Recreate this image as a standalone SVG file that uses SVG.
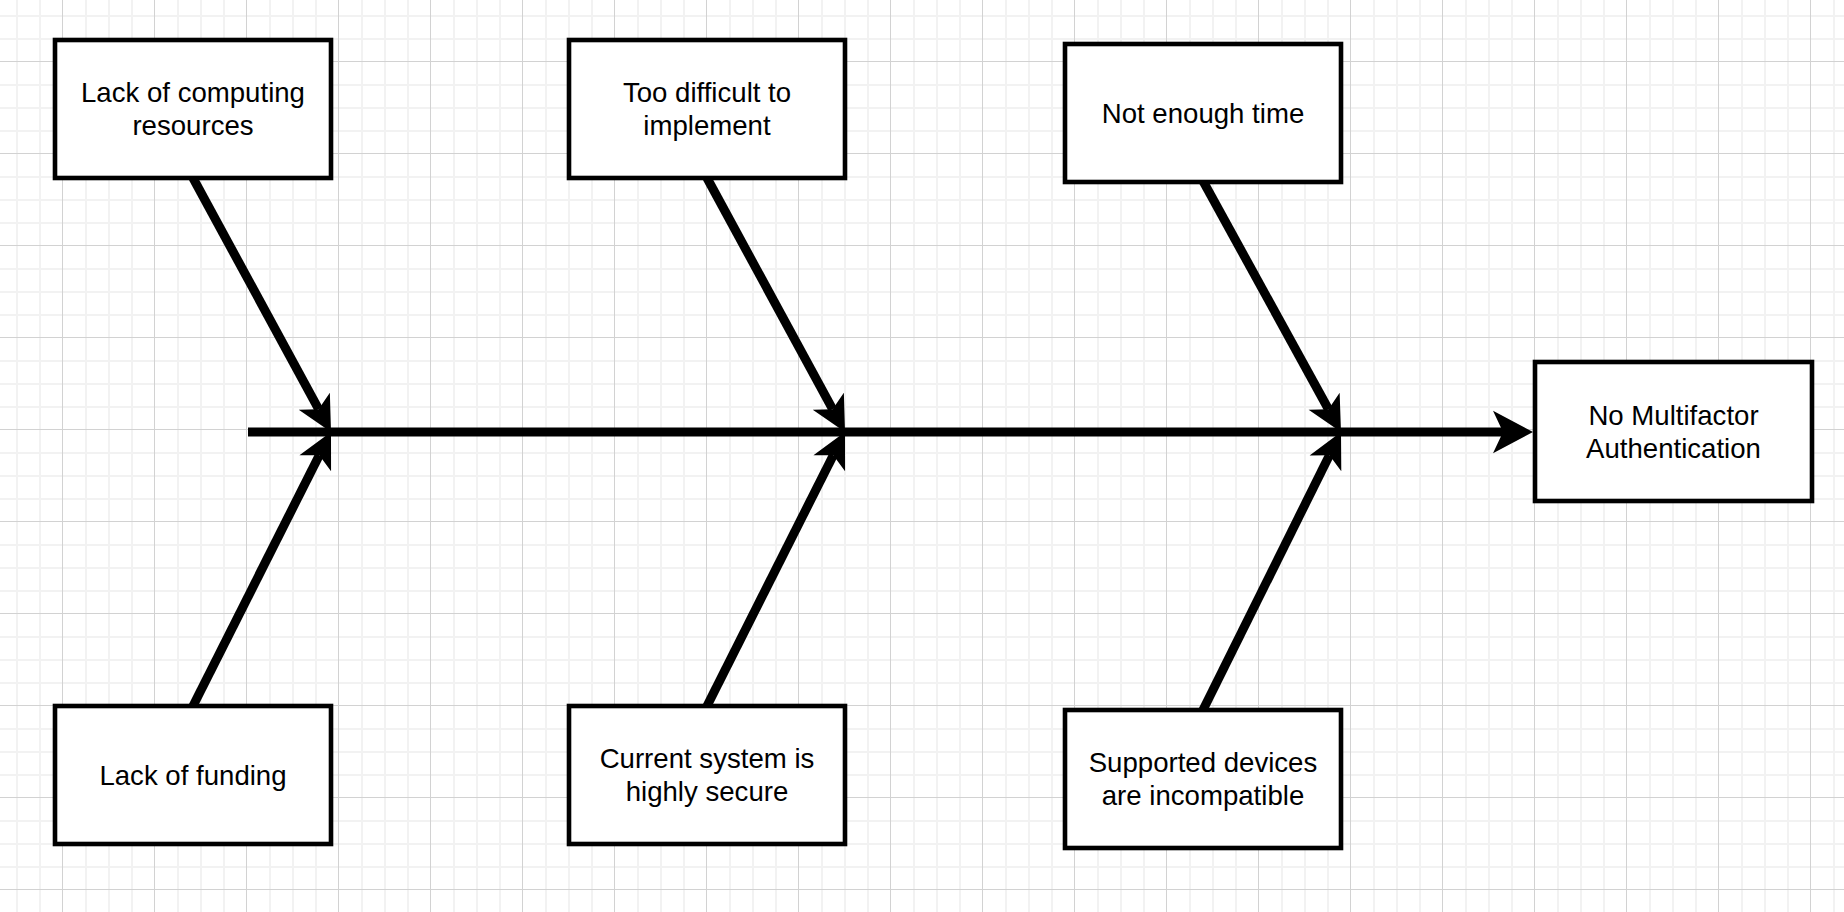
<svg xmlns="http://www.w3.org/2000/svg" width="1844" height="912" viewBox="0 0 1844 912">
  <style>
    .box { fill: #ffffff; stroke: #000000; stroke-width: 4.6; }
    .lbl { font-family: "Liberation Sans", Arial, Helvetica, sans-serif; font-size: 27.6px; fill: #000000; text-anchor: middle; }
    .bone { stroke: #000000; stroke-width: 9; fill: none; marker-end: url(#ah-bone); }
    .spine { stroke: #000000; stroke-width: 9; fill: none; marker-end: url(#ah-main); }
  </style>
  <defs>
    <pattern id="grid" patternUnits="userSpaceOnUse" x="62" y="61" width="92" height="92">
      <rect x="23" y="0" width="2" height="92" fill="#f2f2f2"/>
      <rect x="46" y="0" width="2" height="92" fill="#f2f2f2"/>
      <rect x="69" y="0" width="2" height="92" fill="#f2f2f2"/>
      <rect x="0" y="23" width="92" height="2" fill="#f2f2f2"/>
      <rect x="0" y="46" width="92" height="2" fill="#f2f2f2"/>
      <rect x="0" y="69" width="92" height="2" fill="#f2f2f2"/>
      <rect x="0" y="0" width="1" height="92" fill="#d2d2d2"/>
      <rect x="0" y="0" width="92" height="1" fill="#d2d2d2"/>
    </pattern>
    <marker id="ah-bone" markerUnits="userSpaceOnUse" orient="auto" refX="0" refY="0" markerWidth="40" markerHeight="40" viewBox="-10 -20 40 40" overflow="visible">
      <path d="M26,0 L-9,-17.7 L0,0 L-9,17.7 Z" fill="#000000"/>
    </marker>
    <marker id="ah-main" markerUnits="userSpaceOnUse" orient="auto" refX="0" refY="0" markerWidth="46" markerHeight="48" viewBox="-12 -24 46 48" overflow="visible">
      <path d="M30,0 L-10,-21.3 L0,0 L-10,21.3 Z" fill="#000000"/>
    </marker>
  </defs>

  <rect x="0" y="0" width="1844" height="912" fill="#ffffff"/>
  <rect x="0" y="0" width="1844" height="912" fill="url(#grid)"/>

  <g id="connectors">
    <line class="spine" x1="248" y1="432" x2="1503" y2="432"/>
    <line class="bone" x1="193" y1="178" x2="318.6" y2="409.15"/>
    <line class="bone" x1="193" y1="706" x2="319.3" y2="455.22"/>
    <line class="bone" x1="707" y1="178" x2="832.6" y2="409.15"/>
    <line class="bone" x1="707" y1="706" x2="833.3" y2="455.22"/>
    <line class="bone" x1="1203" y1="181" x2="1328.47" y2="409.22"/>
    <line class="bone" x1="1203" y1="710" x2="1329.44" y2="455.29"/>
  </g>

  <g id="node-computing">
    <rect class="box" x="55" y="40" width="276" height="138"/>
    <text class="lbl" x="193" y="102">Lack of computing</text>
    <text class="lbl" x="193" y="135">resources</text>
  </g>
  <g id="node-difficult">
    <rect class="box" x="569" y="40" width="276" height="138"/>
    <text class="lbl" x="707" y="102">Too difficult to</text>
    <text class="lbl" x="707" y="135">implement</text>
  </g>
  <g id="node-time">
    <rect class="box" x="1065" y="44" width="276" height="138"/>
    <text class="lbl" x="1203" y="122.5">Not enough time</text>
  </g>
  <g id="node-funding">
    <rect class="box" x="55" y="706" width="276" height="138"/>
    <text class="lbl" x="193" y="784.5">Lack of funding</text>
  </g>
  <g id="node-secure">
    <rect class="box" x="569" y="706" width="276" height="138"/>
    <text class="lbl" x="707" y="768">Current system is</text>
    <text class="lbl" x="707" y="801">highly secure</text>
  </g>
  <g id="node-devices">
    <rect class="box" x="1065" y="710" width="276" height="138"/>
    <text class="lbl" x="1203" y="772">Supported devices</text>
    <text class="lbl" x="1203" y="805">are incompatible</text>
  </g>
  <g id="node-effect">
    <rect class="box" x="1535" y="362" width="277" height="139"/>
    <text class="lbl" x="1673.5" y="424.5">No Multifactor</text>
    <text class="lbl" x="1673.5" y="457.5">Authentication</text>
  </g>
</svg>
